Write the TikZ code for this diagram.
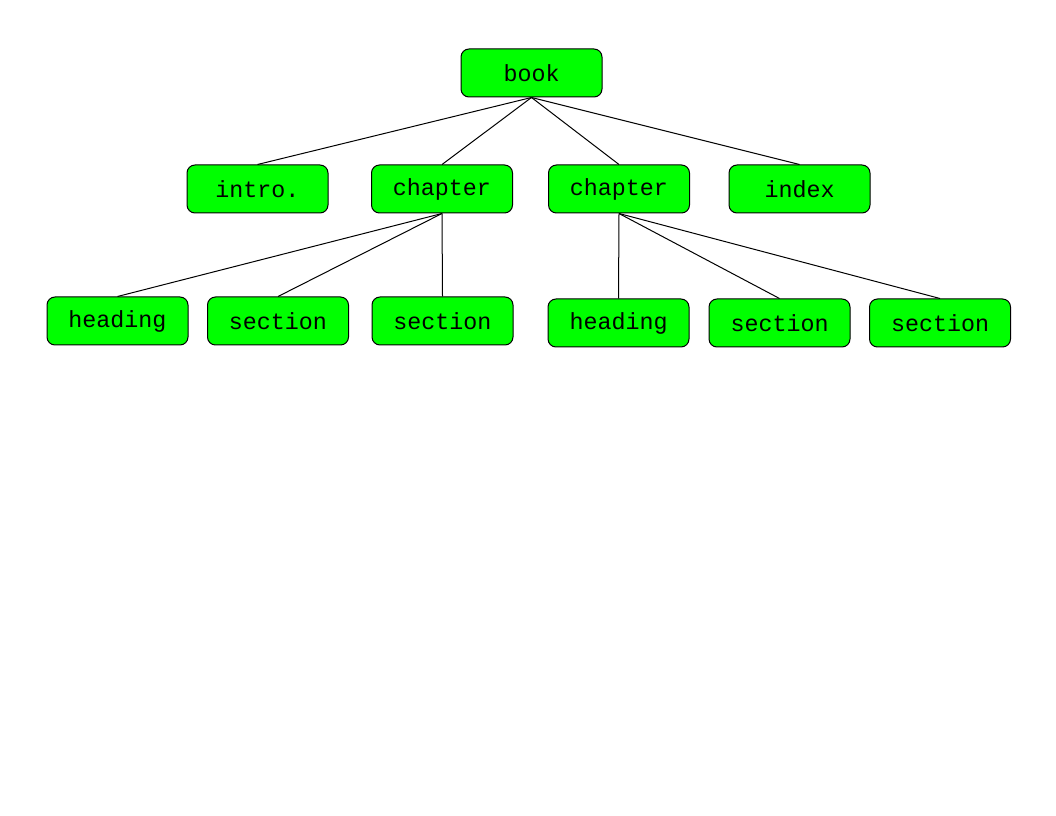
\documentclass[tikz,border=0pt]{standalone}
\usepackage{fontspec}
\newfontfamily\boxfont{Liberation Mono}
\usepackage{xcolor}
\definecolor{treeGreen}{HTML}{00FF00}

\begin{document}
\begin{tikzpicture}[x=0.75pt,y=-0.75pt,
  treebox/.style={draw,rounded corners=6pt,fill=treeGreen,line width=0.75pt,minimum width=105.75pt,minimum height=36pt,font=\boxfont\fontsize{17.5}{20}\selectfont},
  link/.style={line width=0.75pt}]
  \useasboundingbox (0,0) rectangle (1056,816);
  \node[treebox] (book) at (531.5,73) {book};
  \node[treebox] (intro) at (257.5,189) {intro.};
  \node[treebox] (chapA) at (442,189) {chapter};
  \node[treebox] (chapB) at (619,189) {chapter};
  \node[treebox] (index) at (799.5,189) {index};
  \node[treebox] (headA) at (117.5,321) {heading};
  \node[treebox] (secA) at (278,321) {section};
  \node[treebox] (secB) at (442.5,321) {section};
  \node[treebox] (headB) at (618.5,323) {heading};
  \node[treebox] (secC) at (779.5,323) {section};
  \node[treebox] (secD) at (940,323) {section};
  \draw[link] (book.south) -- (intro.north);
  \draw[link] (book.south) -- (chapA.north);
  \draw[link] (book.south) -- (chapB.north);
  \draw[link] (book.south) -- (index.north);
  \draw[link] (chapA.south) -- (headA.north);
  \draw[link] (chapA.south) -- (secA.north);
  \draw[link] (chapA.south) -- (secB.north);
  \draw[link] (chapB.south) -- (headB.north);
  \draw[link] (chapB.south) -- (secC.north);
  \draw[link] (chapB.south) -- (secD.north);
\end{tikzpicture}
\end{document}
